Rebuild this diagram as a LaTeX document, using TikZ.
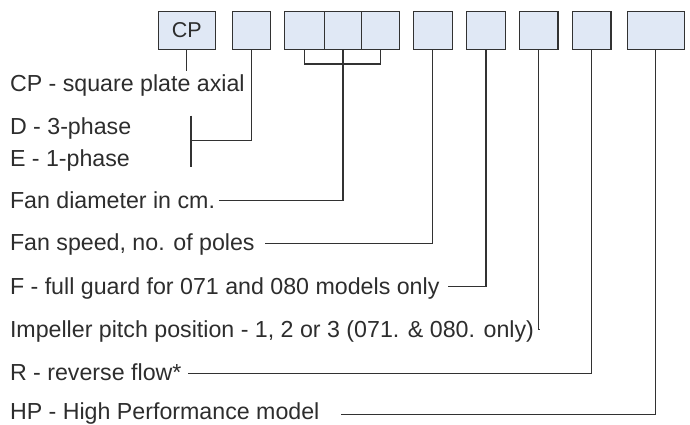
\documentclass[tikz,border=0pt]{standalone}
\usepackage{fontspec}
\setmainfont{Liberation Sans}
\usetikzlibrary{calc}
\definecolor{boxfill}{RGB}{224,232,245}
\definecolor{ink}{RGB}{50,50,50}
\definecolor{txt}{RGB}{45,45,45}
\begin{document}
\begin{tikzpicture}[x=1pt,y=-1pt,
  codebox/.style={draw=ink, line width=1.4pt, fill=boxfill, minimum height=37.6pt,
    inner sep=0pt, outer sep=0pt, anchor=north west},
  lbl/.style={anchor=base west, inner sep=0pt, outer sep=0pt, text=txt,
    font=\fontsize{23.2}{23.2}\selectfont},
  conn/.style={draw=ink, line width=1.1pt}]
\useasboundingbox (0,0) rectangle (690,425);

% code boxes
\node[codebox, minimum width=57pt] (b1) at (158.3,11.7) {\fontsize{21.5}{21.5}\selectfont\color{txt}CP};
\node[codebox, minimum width=38pt] (b2) at (232.7,11.7) {};
\node[codebox, minimum width=40pt] (c1) at (284.3,11.7) {};
\node[codebox, minimum width=37.4pt] (c2) at (324.3,11.7) {};
\node[codebox, minimum width=38pt] (c3) at (361.7,11.7) {};
\node[codebox, minimum width=39pt] (b4) at (413.3,11.7) {};
\node[codebox, minimum width=38.6pt] (b5) at (466.7,11.7) {};
\node[codebox, minimum width=38.3pt] (b6) at (519.7,11.7) {};
\node[codebox, minimum width=38.7pt] (b7) at (572.3,11.7) {};
\node[codebox, minimum width=57pt] (b8) at (627.3,11.7) {};

% labels
\node[lbl] (t1) at (10,91.7) {CP - square plate axial};
\node[lbl] (t2a) at (10,134) {D - 3-phase};
\node[lbl] (t2b) at (10,166) {E - 1-phase};
\node[lbl] (t3) at (10,208.3) {Fan diameter in cm.};
\node[lbl] (t4) at (10,250.7) {Fan speed, no. of poles};
\node[lbl] (t5) at (10,294) {F - full guard for 071 and 080 models only};
\node[lbl] (t6) at (10,337) {Impeller pitch position - 1, 2 or 3 (071. \& 080. only)};
\node[lbl] (t7) at (10,380.8) {R - reverse flow*};
\node[lbl] (t8) at (10,419.6) {HP - High Performance model};

% CP connector
\path (b1.south) ++(0,21.7) coordinate (cpend);
\draw[conn] (b1.south) -- (cpend);

% D/E bracket
\coordinate (dj) at (191,140.3);
\coordinate (dt) at (191,115.7);
\coordinate (db) at (191,167.3);
\draw[conn] (b2.south) |- (dj);
\draw[conn] (dt) -- (db);

% diameter bracket
\draw[conn] (c1.south) -- ++(0,14.7) -| (c3.south);
\draw[conn] (c2.south) |- ($(t3.base east)+(4,-7.6)$);

% remaining connectors
\draw[conn] (b4.south) |- ($(t4.base east)+(10.5,-7.6)$);
\draw[conn] (b5.south) |- ($(t5.base east)+(8.6,-7.4)$);
\draw[conn] (b6.south) |- ($(t6.base east)+(5.3,-7.5)$);
\draw[conn] (b7.south) |- ($(t7.base east)+(6.6,-7.5)$);
\draw[conn] (b8.south) |- ($(t8.base east)+(21.6,-5)$);
\end{tikzpicture}
\end{document}
